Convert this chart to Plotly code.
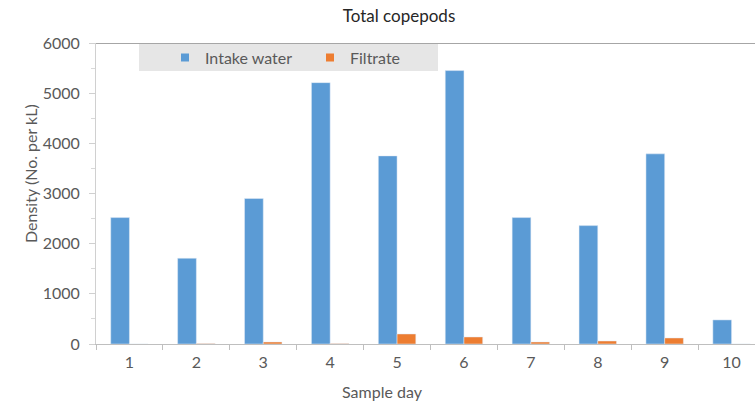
import plotly.graph_objects as go

days = ["1", "2", "3", "4", "5", "6", "7", "8", "9", "10"]
intake_water = [2520, 1710, 2900, 5210, 3750, 5450, 2520, 2360, 3790, 480]
filtrate = [0, 10, 40, 10, 200, 140, 40, 60, 120, 0]
y_ticks = [0, 1000, 2000, 3000, 4000, 5000, 6000]

BLUE = "#5B9BD5"
ORANGE = "#ED7D31"
TXT = "#595959"
FONT = "Lato"
FS = 16

W, H = 755, 401
L, R, T, B = 96, 0, 43, 57
pw = W - L - R
ph = H - T - B

fig = go.Figure()
fig.add_trace(go.Bar(x=days, y=intake_water, name="Intake water", marker_color=BLUE,
                     showlegend=False))
fig.add_trace(go.Bar(x=days, y=filtrate, name="Filtrate", marker_color=ORANGE,
                     showlegend=False))
# legend entries
fig.add_trace(go.Scatter(x=[None], y=[None], mode="markers", name="Intake water",
                         marker=dict(symbol="square", size=8, color=BLUE)))
fig.add_trace(go.Scatter(x=[None], y=[None], mode="markers", name="Filtrate",
                         marker=dict(symbol="square", size=8, color=ORANGE)))

def px_x(p):
    return (p - L) / pw

def px_y(p):
    return (H - B - p) / ph

fig.update_layout(
    width=W, height=H,
    margin=dict(l=L, r=R, t=T, b=B),
    paper_bgcolor="white", plot_bgcolor="white",
    font=dict(family=FONT, size=FS, color=TXT),
    barmode="group", bargap=0.44, bargroupgap=0,
    title=dict(text="Total copepods", x=399 / W, xref="container", xanchor="center",
               y=1 - 16 / H, yref="container", yanchor="middle",
               font=dict(family=FONT, size=17, color="#262626")),
    legend=dict(orientation="h", x=px_x(165), xanchor="left", y=px_y(57.5),
                yanchor="middle", bgcolor="rgba(0,0,0,0)", entrywidth=100,
                font=dict(family=FONT, size=FS, color=TXT)),
    xaxis=dict(type="category", range=[-0.5, 9.35], tickson="boundaries",
               ticks="outside", ticklen=5, tickcolor="#bfbfbf",
               showline=True, linecolor="#bfbfbf", linewidth=1,
               showgrid=False, zeroline=False, ticklabelstandoff=4,
               tickfont=dict(family=FONT, size=FS, color=TXT)),
    yaxis=dict(range=[0, 6000], tickvals=y_ticks, ticks="outside", ticklen=6,
               tickcolor="#d0d0d0", showline=True, linecolor="#d0d0d0", linewidth=1,
               showgrid=False, zeroline=False, ticklabelstandoff=6,
               minor=dict(dtick=500, ticks="outside", ticklen=4, tickcolor="#d9d9d9"),
               tickfont=dict(family=FONT, size=FS, color=TXT)),
    shapes=[
        dict(type="rect", xref="paper", yref="paper", x0=px_x(139), x1=px_x(438),
             y0=px_y(71), y1=px_y(44), fillcolor="#e6e6e6", line=dict(width=0),
             layer="below"),
        dict(type="line", xref="paper", yref="y", x0=0, x1=1, y0=6000, y1=6000,
             line=dict(color="#a6a6a6", width=2)),
    ],
    annotations=[
        dict(text="Sample day", xref="paper", yref="paper", x=px_x(382), y=px_y(391),
             xanchor="center", yanchor="middle", showarrow=False,
             font=dict(family=FONT, size=FS, color=TXT)),
        dict(text="Density (No. per kL)", xref="paper", yref="paper", x=px_x(30),
             y=px_y(174), xanchor="center", yanchor="middle", textangle=-90,
             showarrow=False, font=dict(family=FONT, size=FS, color=TXT)),
    ],
)

fig.write_html("out.html")
